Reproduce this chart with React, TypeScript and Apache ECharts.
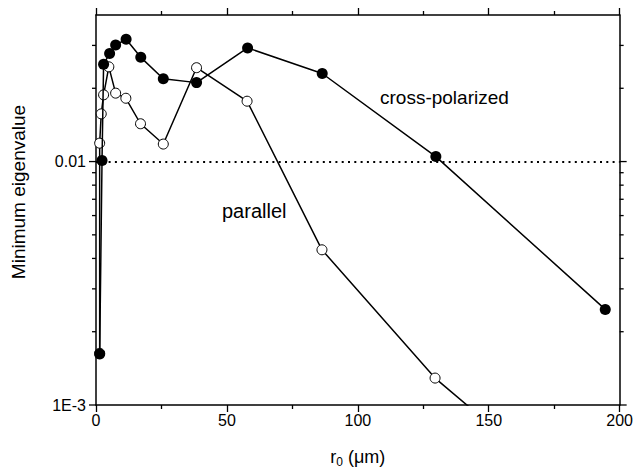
import React, { useEffect, useRef } from "react";
import * as echarts from "echarts";

// r0 (µm) and minimum eigenvalue, cross-polarized (filled circles)
const crossX = [1.4, 2.3, 2.9, 5.2, 7.5, 11.5, 17.1, 25.7, 38.4, 57.9, 86.4, 129.8, 194.5];
const crossY = [0.00162, 0.0101, 0.0251, 0.0278, 0.0301, 0.0318, 0.0268, 0.0219, 0.0211, 0.0293, 0.023, 0.01048, 0.00247];

// parallel (open circles)
const parX = [1.4, 1.4, 2.0, 2.9, 4.9, 7.5, 11.4, 17.0, 25.7, 38.4, 57.7, 86.3, 129.5, 194.5];
const parY = [0.00163, 0.0119, 0.0157, 0.0188, 0.0245, 0.0191, 0.0182, 0.0143, 0.0118, 0.0243, 0.0177, 0.00434, 0.00129, 0.00033];

// axis ticks
const yMajorTicks = [0.001, 0.01];
const yMinorTicks = [0.002, 0.003, 0.004, 0.005, 0.006, 0.007, 0.008, 0.009, 0.02, 0.03];
const yLabels: Record<string, string> = { "0.001": "1E-3", "0.01": "0.01" };
const thresholdY = 0.01;

const FONT = "'Liberation Sans', Arial, sans-serif";

export default function App() {
  const ref = useRef<HTMLDivElement>(null);
  useEffect(() => {
    if (!ref.current) return;
    const chart = echarts.init(ref.current, null, { renderer: "svg" });
    const tickData = [
      ...yMajorTicks.map((v) => [0, v, 1]),
      ...yMinorTicks.map((v) => [0, v, 0]),
    ];
    const xAxisCommon = {
      type: "value" as const,
      min: 0,
      max: 200,
      interval: 50,
      splitLine: { show: false },
      axisLine: { show: true, onZero: false, lineStyle: { color: "#000", width: 1.5 } },
      axisTick: { show: true, inside: false, length: 7, lineStyle: { color: "#000", width: 1.3 } },
      minorTick: { show: true, splitNumber: 2, length: 4, lineStyle: { color: "#000", width: 1.3 } },
    };
    const yAxisCommon = {
      type: "log" as const,
      logBase: 10,
      min: 0.001,
      max: 0.04,
      splitLine: { show: false },
      axisTick: { show: false },
      axisLine: { show: true, onZero: false, lineStyle: { color: "#000", width: 1.5 } },
    };
    chart.setOption({
      animation: false,
      backgroundColor: "#fff",
      textStyle: { fontFamily: FONT },
      grid: { left: 96, right: 15, top: 15, bottom: 65 },
      xAxis: [
        {
          ...xAxisCommon,
          position: "bottom",
          name: "r{sub|0} (μm)",
          nameLocation: "middle",
          nameGap: 41,
          nameTextStyle: {
            fontSize: 18,
            color: "#000",
            fontFamily: FONT,
            rich: {
              sub: { fontSize: 12, padding: [10, 0, 0, 0], fontFamily: FONT, color: "#000" },
            },
          },
          axisLabel: { fontSize: 16, color: "#000", margin: 7, fontFamily: FONT },
        },
        {
          ...xAxisCommon,
          position: "top",
          axisLabel: { show: false },
        },
      ],
      yAxis: [
        {
          ...yAxisCommon,
          position: "left",
          axisLabel: {
            fontSize: 16,
            color: "#000",
            margin: 10,
            fontFamily: FONT,
            formatter: (v: number) => {
              const k = String(+v.toPrecision(3));
              return yLabels[k] ?? "";
            },
          },
        },
        {
          ...yAxisCommon,
          position: "right",
          axisLabel: { show: false },
        },
      ],
      graphic: [
        {
          type: "text",
          x: 18,
          y: 192,
          rotation: Math.PI / 2,
          style: {
            text: "Minimum eigenvalue",
            font: `19px ${FONT}`,
            fill: "#000",
            align: "center",
            verticalAlign: "middle",
          },
        },
        {
          type: "text",
          left: 380,
          top: 88,
          style: { text: "cross-polarized", font: `19px ${FONT}`, fill: "#000" },
        },
        {
          type: "text",
          left: 222,
          top: 201,
          style: { text: "parallel", font: `20px ${FONT}`, fill: "#000" },
        },
      ],
      series: [
        {
          type: "custom",
          silent: true,
          xAxisIndex: 0,
          yAxisIndex: 0,
          clip: false,
          encode: { x: 0, y: 1 },
          data: tickData,
          z: 10,
          renderItem: (_p: any, api: any) => {
            const v = api.value(1);
            const major = api.value(2) === 1;
            const len = major ? 7 : 4;
            const l = api.coord([0, v]);
            const r = api.coord([200, v]);
            const style = { stroke: "#000", lineWidth: 1.3 };
            return {
              type: "group",
              children: [
                { type: "line", shape: { x1: l[0] - len, y1: l[1], x2: l[0], y2: l[1] }, style },
                { type: "line", shape: { x1: r[0], y1: r[1], x2: r[0] + len, y2: r[1] }, style },
              ],
            };
          },
        },
        {
          type: "line",
          name: "parallel",
          clip: true,
          data: parX.map((x, i) => [x, parY[i]]),
          symbol: "circle",
          symbolSize: 10,
          itemStyle: { color: "#fff", borderColor: "#000", borderWidth: 1 },
          lineStyle: { color: "#000", width: 1.5 },
          z: 3,
        },
        {
          type: "line",
          name: "cross-polarized",
          clip: true,
          data: crossX.map((x, i) => [x, crossY[i]]),
          symbol: "circle",
          symbolSize: 11,
          itemStyle: { color: "#000", borderColor: "#000", borderWidth: 0 },
          lineStyle: { color: "#000", width: 1.5 },
          z: 4,
          markLine: {
            silent: true,
            symbol: "none",
            label: { show: false },
            lineStyle: { color: "#000", width: 2, type: [2, 4.3] },
            data: [{ yAxis: thresholdY }],
          },
        },
      ],
    });
    return () => chart.dispose();
  }, []);
  return (
    <div
      ref={ref}
      style={{ position: "absolute", left: 0, top: 0, width: 636, height: 473 }}
    />
  );
}
